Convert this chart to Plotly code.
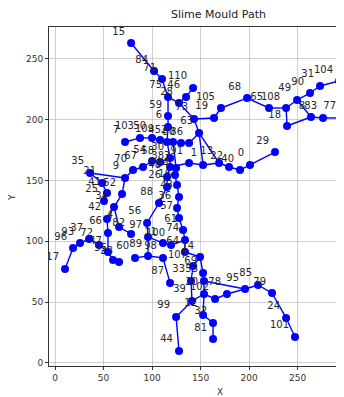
import plotly.graph_objects as go

# node ids and positions
node_labels = [
    "15", "84", "71", "75", "46", "110", "28", "59", "6", "73", "63", "19", "105",
    "68", "65", "108", "49", "90", "31", "104", "27", "18", "8", "83", "77", "62",
    "7", "103", "50", "109", "45", "2", "80", "86",
    "35", "9", "70", "67", "54", "58", "30", "38", "91", "1", "13", "22", "40", "0",
    "29", "48", "26", "3",
    "21", "41", "52", "25", "34", "42", "66", "4", "82", "93", "37", "72", "47", "96",
    "17", "55", "23", "60", "89", "98", "87",
    "88", "94", "16", "43", "36", "57", "61", "74", "64", "14", "56", "97", "11", "100",
    "107", "33", "53", "69", "39", "20", "102", "78", "95", "85", "79", "24", "101",
    "99", "44", "12", "32", "81",
]
node_x = [
    78.4, 102.1, 110.3, 116.5, 135.1, 142.3, 127.8, 116.5, 116.5, 143.3, 148.5, 163.9, 171.1,
    198.0, 220.6, 238.2, 249.5, 262.9, 273.2, 292.8, 308.3, 239.2, 263.9, 276.3, 295.9, 312.4,
    72.2, 87.6, 100.0, 108.3, 115.5, 121.7, 129.9, 138.2,
    36.1, 72.2, 80.4, 90.7, 100.0, 108.3, 118.6, 118.6, 138.2, 152.6, 169.1, 179.4, 190.7, 201.0,
    226.8, 115.5, 115.5, 124.8,
    48.5, 53.6, 69.1, 50.5, 60.8, 53.6, 54.6, 66.0, 78.4, 25.8, 35.1, 45.4, 54.6, 18.6,
    10.3, 59.8, 66.0, 82.5, 95.9, 111.3, 118.6,
    107.2, 123.7, 125.8, 127.8, 125.8, 127.8, 132.0, 134.0, 134.0, 149.5, 94.9, 95.9, 111.3, 119.6,
    142.3, 140.2, 153.6, 152.6, 141.2, 153.6, 165.0, 177.3, 195.9, 209.3, 223.7, 238.2, 247.4,
    124.8, 127.8, 152.6, 162.9, 162.9,
]
node_y = [
    263.0, 240.0, 233.4, 218.7, 218.7, 226.1, 213.7, 203.0, 194.0, 200.6, 189.1, 201.4, 209.6,
    217.8, 209.6, 209.6, 216.2, 221.9, 227.7, 231.8, 236.7, 194.8, 202.2, 201.4, 201.4, 200.6,
    181.7, 185.0, 185.0, 183.3, 181.7, 181.7, 180.8, 180.8,
    156.2, 152.1, 158.6, 161.1, 166.0, 165.2, 168.5, 161.1, 164.4, 162.8, 164.4, 161.1, 158.6, 162.8,
    173.4, 152.9, 144.7, 160.3,
    148.0, 139.7, 138.9, 133.2, 128.2, 118.4, 106.9, 111.8, 106.0, 98.6, 101.9, 97.0, 91.2, 94.5,
    77.3, 84.7, 83.0, 86.3, 88.0, 86.3, 65.8,
    131.5, 154.5, 146.3, 136.5, 127.4, 119.2, 109.3, 101.1, 91.2, 87.1, 115.1, 103.6, 98.6, 97.0,
    79.7, 67.4, 67.4, 74.0, 51.0, 56.7, 52.6, 56.7, 60.8, 64.1, 57.5, 37.0, 21.4,
    37.8, 9.9, 39.5, 32.9, 19.7,
]

# connections between nodes
edges = [
    ("15", "84"), ("84", "71"), ("71", "75"), ("75", "28"), ("110", "46"), ("46", "28"),
    ("28", "73"), ("73", "63"), ("75", "59"), ("59", "6"), ("6", "45"), ("73", "19"),
    ("19", "105"), ("105", "68"), ("68", "65"), ("65", "108"), ("108", "49"), ("49", "90"),
    ("90", "31"), ("31", "104"), ("104", "27"), ("108", "18"), ("18", "8"), ("8", "83"),
    ("83", "77"), ("77", "62"), ("49", "8"),
    ("7", "103"), ("103", "50"), ("50", "109"), ("109", "45"), ("45", "2"), ("2", "80"),
    ("80", "86"), ("86", "63"), ("63", "1"), ("63", "13"),
    ("35", "9"), ("9", "70"), ("70", "67"), ("67", "54"), ("54", "58"), ("58", "30"),
    ("45", "30"), ("30", "38"), ("38", "91"), ("91", "1"), ("1", "13"), ("13", "22"),
    ("22", "40"), ("40", "0"), ("0", "29"), ("38", "48"), ("48", "26"), ("26", "88"),
    ("88", "56"), ("56", "97"), ("97", "89"),
    ("2", "3"), ("3", "94"), ("94", "16"), ("16", "43"), ("43", "36"), ("36", "57"),
    ("57", "61"), ("61", "74"), ("74", "64"), ("64", "14"), ("97", "11"), ("11", "100"),
    ("100", "74"),
    ("35", "21"), ("21", "41"), ("41", "25"), ("9", "52"), ("52", "34"), ("34", "42"),
    ("42", "66"), ("34", "4"), ("4", "82"), ("66", "47"), ("96", "93"), ("93", "37"),
    ("37", "72"), ("72", "47"), ("96", "17"), ("47", "55"), ("55", "23"), ("89", "60"),
    ("89", "98"), ("98", "87"),
    ("14", "107"), ("107", "33"), ("14", "69"), ("69", "53"), ("53", "20"), ("20", "12"),
    ("12", "32"), ("32", "81"), ("33", "39"), ("39", "99"), ("99", "44"), ("39", "20"),
    ("20", "102"), ("102", "78"), ("78", "95"), ("53", "95"), ("95", "85"), ("85", "79"),
    ("79", "24"), ("24", "101"),
]

x_ticks = [0, 50, 100, 150, 200, 250, 300]
y_ticks = [0, 50, 100, 150, 200, 250]

pos = {lab: (x, y) for lab, x, y in zip(node_labels, node_x, node_y)}
ex, ey = [], []
for a, b in edges:
    ex += [pos[a][0], pos[b][0], None]
    ey += [pos[a][1], pos[b][1], None]

fig = go.Figure()
fig.add_trace(go.Scatter(x=ex, y=ey, mode='lines', hoverinfo='skip',
                         line=dict(color='#0000ff', width=1.4)))
fig.add_trace(go.Scatter(x=node_x, y=node_y, mode='markers+text', text=node_labels,
                         textposition='top left',
                         textfont=dict(family='DejaVu Sans', size=10, color='#262626'),
                         marker=dict(color='#0000ff', size=8)))

# page body has an 8px margin, so the figure is drawn 8px in and down
W, H = 336, 389
ML, MT, MB = 41, 19, 31
PW, PH = W - ML, H - MT - MB


def px(x, y):
    # page pixel -> paper coords
    return (x - 8 - ML) / PW, (H - MB - (y - 8)) / PH


tx, ty = px(218, 15)
xx, xy = px(220, 392)
yx, yy = px(12, 198)

fig.update_layout(
    width=W, height=H,
    margin=dict(l=ML, r=0, t=MT, b=MB),
    showlegend=False,
    plot_bgcolor='white', paper_bgcolor='white',
    font=dict(family='DejaVu Sans', size=9, color='#333'),
    annotations=[
        dict(text='Slime Mould Path', x=tx, y=ty, xref='paper', yref='paper',
             xanchor='center', yanchor='middle',
             showarrow=False, font=dict(size=11, color='#222')),
        dict(text='X', x=xx, y=xy, xref='paper', yref='paper',
             xanchor='center', yanchor='middle',
             showarrow=False, font=dict(size=9)),
        dict(text='Y', x=yx, y=yy, xref='paper', yref='paper',
             xanchor='center', yanchor='middle',
             showarrow=False, textangle=-90, font=dict(size=9)),
    ],
)

fig.update_xaxes(range=[-6.2, 297.9], tickvals=x_ticks, showgrid=True,
                 gridcolor='rgba(176,176,176,0.6)', gridwidth=1, zeroline=False,
                 showline=True, linecolor='#333', linewidth=1, mirror=True,
                 ticks='outside', ticklen=3, tickcolor='#333')
fig.update_yaxes(range=[-2.5, 276.2], tickvals=y_ticks, showgrid=True,
                 gridcolor='rgba(176,176,176,0.6)', gridwidth=1, zeroline=False,
                 showline=True, linecolor='#333', linewidth=1,
                 ticks='outside', ticklen=3, tickcolor='#333')

fig.write_html("out.html")
